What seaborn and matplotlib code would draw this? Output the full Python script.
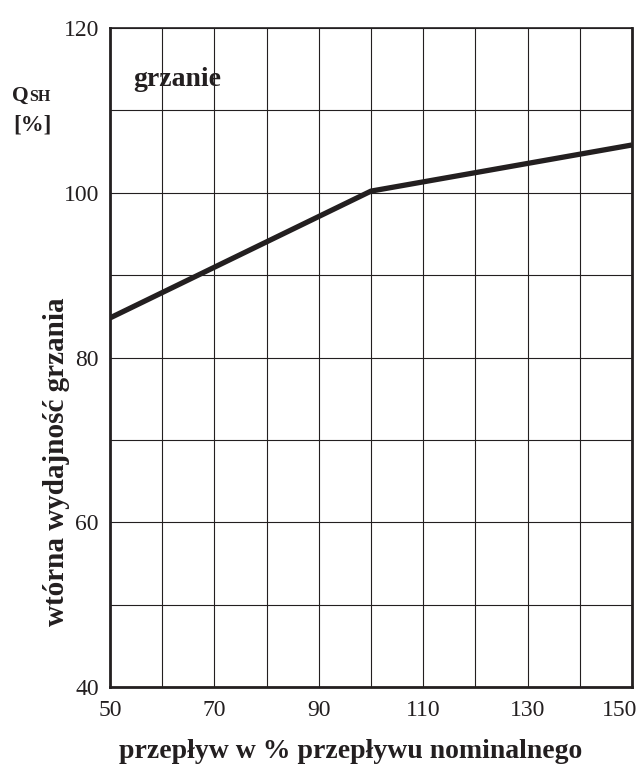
import matplotlib
matplotlib.use("Agg")
import matplotlib.pyplot as plt
import matplotlib.transforms as mtransforms
import seaborn as sns
import pandas as pd
from matplotlib.ticker import MultipleLocator

flow = [50, 100, 150]
heat = [84.8, 100.2, 105.8]
x_ticks = [50, 70, 90, 110, 130, 150]
y_ticks = [40, 60, 80, 100, 120]

sns.set_theme(style="white")
plt.rcParams['font.family'] = ['Liberation Serif', 'DejaVu Serif']

fig = plt.figure(figsize=(6.39, 7.78), dpi=100)
ax = fig.add_axes([110/639, 91/778, 522/639, 659/778])

df = pd.DataFrame({"flow": flow, "heat": heat})
sns.lineplot(data=df, x="flow", y="heat", ax=ax, color="#231f20", linewidth=3.8,
             solid_capstyle="butt", zorder=5)

ax.set_xlim(50, 150)
ax.set_ylim(40, 120)
ax.set_xticks(x_ticks)
ax.set_yticks(y_ticks)
ax.xaxis.set_minor_locator(MultipleLocator(10))
ax.yaxis.set_minor_locator(MultipleLocator(10))
ax.grid(True, which="both", color="#231f20", linewidth=0.8)
ax.tick_params(which="both", length=0, labelsize=17, colors="#231f20")
ax.tick_params(axis="x", pad=9)
ax.tick_params(axis="y", pad=8)
ax.set_xlabel("")
ax.set_ylabel("")

# keep the last x tick label inside the figure, as in the reference
fig.canvas.draw()
last = ax.get_xticklabels()[-1]
last.set_transform(last.get_transform() +
                   mtransforms.ScaledTranslation(-12/100, 0, fig.dpi_scale_trans))

for side in ["left", "bottom", "right"]:
    ax.spines[side].set_linewidth(2.0)
    ax.spines[side].set_color("#231f20")
ax.spines["top"].set_linewidth(1.2)
ax.spines["top"].set_color("#231f20")

fig.text(133/639, 1 - 86/778, "grzanie", fontsize=20,
         fontweight="bold", color="#231f20", ha="left", va="baseline")

fig.text(12/639, 1 - 101/778, "Q", fontsize=15.5, fontweight="bold", color="#231f20",
         ha="left", va="baseline")
fig.text(29/639, 1 - 101/778, "SH", fontsize=11.5, fontweight="bold", color="#231f20",
         ha="left", va="baseline")
fig.text(13/639, 1 - 130/778, "[%]", fontsize=16.5, fontweight="bold", color="#231f20",
         ha="left", va="baseline")

fig.text(351/639, 1 - 752/778, "przepływ w % przepływu nominalnego", fontsize=20,
         fontweight="bold", color="#231f20", ha="center", va="center")
fig.text(57/639, 1 - 462/778, "wtórna wydajność grzania", fontsize=21,
         fontweight="bold", color="#231f20", ha="center", va="center", rotation=90)

fig.savefig("out.png", dpi=100, facecolor="white")
